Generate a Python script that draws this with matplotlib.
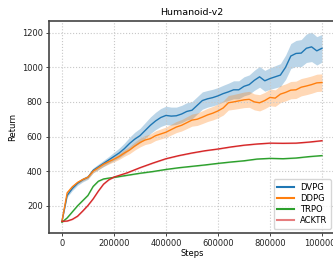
import numpy as np
import matplotlib
matplotlib.use("Agg")
import matplotlib.pyplot as plt

steps = np.arange(0, 1000001, 20000)
dvpg_mean = [110, 260, 300, 330, 350, 365, 405, 425, 445, 465, 485, 505, 530, 560, 585, 605,
             635, 665, 690, 710, 722, 718, 720, 730, 745, 752, 780, 808, 818, 825, 835, 848,
             858, 870, 870, 890, 900, 925, 945, 922, 935, 945, 955, 1000, 1065, 1080, 1082,
             1110, 1118, 1095, 1110]
dvpg_std = [5, 10, 12, 12, 12, 12, 14, 16, 18, 20, 24, 28, 32, 36, 40, 42, 45, 48, 50, 52, 53,
            52, 50, 50, 50, 50, 50, 50, 48, 48, 48, 48, 50, 52, 52, 55, 56, 58, 60, 60, 62, 64,
            66, 70, 72, 75, 78, 82, 85, 82, 80]
ddpg_mean = [110, 275, 310, 335, 352, 365, 400, 420, 440, 455, 469, 485, 505, 522, 545, 565,
             580, 588, 605, 615, 625, 640, 655, 665, 680, 695, 700, 712, 725, 735, 748, 765,
             795, 800, 806, 812, 815, 800, 795, 808, 826, 822, 845, 855, 868, 870, 885, 892,
             900, 910, 912]
ddpg_std = [5, 8, 8, 8, 8, 8, 10, 12, 13, 14, 15, 17, 19, 21, 23, 25, 26, 27, 28, 29, 30, 31,
            32, 33, 34, 35, 36, 37, 38, 39, 40, 41, 42, 43, 44, 45, 46, 46, 47, 47, 48, 48,
            49, 49, 50, 50, 50, 50, 50, 50, 50]

steps_b = [0, 20000, 40000, 60000, 80000, 100000, 120000, 140000, 160000, 180000, 200000,
           250000, 300000, 350000, 400000, 450000, 500000, 550000, 600000, 650000, 700000,
           750000, 800000, 850000, 900000, 950000, 1000000]
trpo_mean = [105, 130, 165, 200, 230, 260, 312, 342, 355, 360, 364, 376, 388, 398, 410, 420,
             428, 436, 445, 453, 460, 470, 474, 472, 476, 484, 490]
acktr_mean = [110, 112, 122, 140, 170, 202, 240, 285, 325, 350, 366, 390, 420, 447, 472, 490,
              505, 518, 528, 540, 550, 557, 562, 561, 562, 568, 576]
small_std = 3

names = ["DVPG", "DDPG", "TRPO", "ACKTR"]
colors = ["#1f77b4", "#ff7f0e", "#2ca02c", "#d62728"]

fig = plt.figure(figsize=(3.33, 2.58), dpi=100)
ax = fig.add_axes([0.147, 0.097, 0.859, 0.822])

series = [
    (steps, dvpg_mean, dvpg_std),
    (steps, ddpg_mean, ddpg_std),
    (steps_b, trpo_mean, [small_std] * len(steps_b)),
    (steps_b, acktr_mean, [small_std] * len(steps_b)),
]
handles = []
for (x, m, s), name, c in zip(series, names, colors):
    x = np.asarray(x); m = np.asarray(m, float); s = np.asarray(s, float)
    ax.fill_between(x, m - s, m + s, color=c, alpha=0.3, lw=0)
    h, = ax.plot(x, m, color=c, lw=1.0, label=name)
    handles.append(h)

ax.set_xlim(-50000, 1050000)
ax.set_ylim(43, 1268)
ax.set_xticks([0, 200000, 400000, 600000, 800000, 1000000])
ax.set_xticklabels(["0", "200000", "400000", "600000", "800000", "1000000"])
ax.set_yticks([200, 400, 600, 800, 1000, 1200])
ax.tick_params(labelsize=6, length=2.5, width=0.6, pad=2, colors="#222222")
ax.grid(True, linestyle=":", color="#c8c8c8", linewidth=0.8)
for sp in ax.spines.values():
    sp.set_color("#444444")
    sp.set_linewidth(1.2)

ax.set_title("Humanoid-v2", fontsize=6.8, pad=4)
ax.set_xlabel("Steps", fontsize=6, labelpad=0.5)
ax.set_ylabel("Return", fontsize=6, labelpad=3)

leg = ax.legend(loc="lower right", fontsize=6, handlelength=2.0, borderpad=0.45,
                labelspacing=0.25, handletextpad=0.7, borderaxespad=0.5,
                framealpha=0.8, edgecolor="#cccccc")
for lh in leg.get_lines():
    lh.set_linewidth(1.5)
leg.get_lines()[3].set_alpha(0.6)

fig.savefig("out.png", dpi=100)
